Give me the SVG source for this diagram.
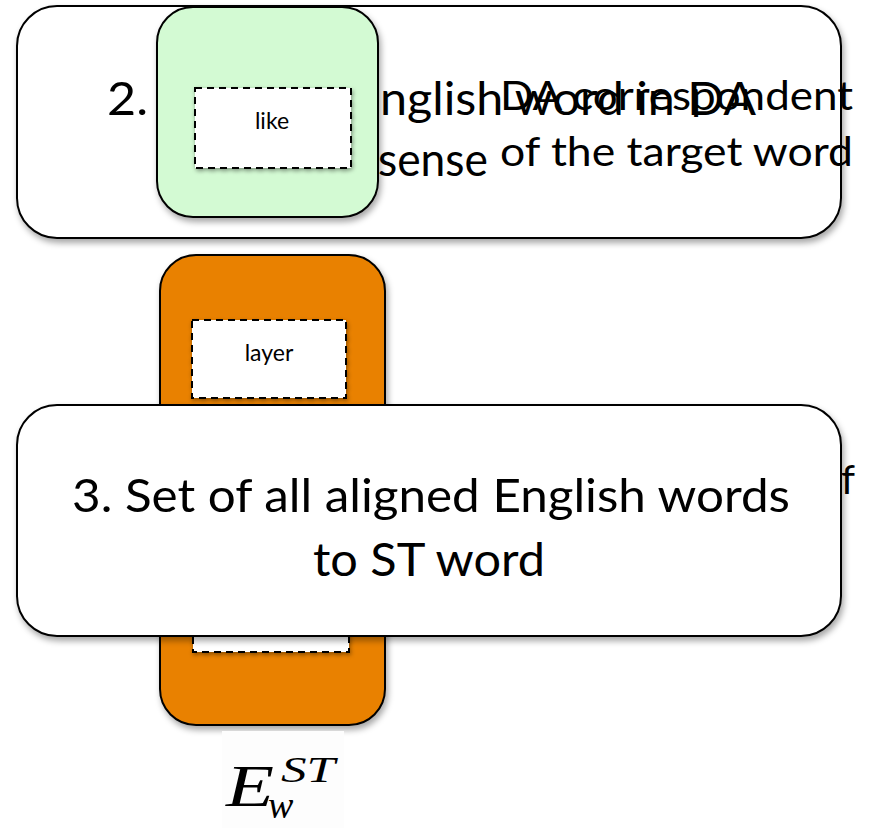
<svg xmlns="http://www.w3.org/2000/svg" width="871" height="828" viewBox="0 0 871 828">
  <defs>
    <filter id="shadow" x="-10%" y="-10%" width="125%" height="130%">
      <feDropShadow dx="2" dy="4" stdDeviation="3" flood-color="#000" flood-opacity="0.35"/>
    </filter>
    <filter id="softShadow" x="-10%" y="-10%" width="125%" height="130%">
      <feDropShadow dx="1" dy="2" stdDeviation="2" flood-color="#000" flood-opacity="0.4"/>
    </filter>
  </defs>
  <style>
    .panel { fill: #ffffff; stroke: #000; stroke-width: 2; }
    .green { fill: #d3fad3; stroke: #000; stroke-width: 2; }
    .orange { fill: #e98105; stroke: #000; stroke-width: 2; }
    .slot { fill: #ffffff; stroke: #000; stroke-width: 2; stroke-dasharray: 7 5; }
    .big { font-family: "Lato", "Liberation Sans", sans-serif; font-size: 47px; fill: #000; }
    .mid { font-family: "Lato", "Liberation Sans", sans-serif; font-size: 40px; fill: #000; }
    .small { font-family: "Lato", "Liberation Sans", sans-serif; font-size: 23px; fill: #000; text-anchor: middle; }
    .math { font-family: "Liberation Serif", serif; font-style: italic; fill: #000; }
  </style>

  <!-- Panel 2 -->
  <g id="panel2">
    <rect class="panel" x="17" y="6" width="824" height="232" rx="40" filter="url(#shadow)"/>
    <text class="big" x="107" y="115" textLength="41" lengthAdjust="spacingAndGlyphs">2.</text>
    <text class="big" x="380" y="115" textLength="376" lengthAdjust="spacingAndGlyphs">nglish word in DA</text>
    <text class="big" x="378" y="176" textLength="110" lengthAdjust="spacingAndGlyphs">sense</text>
    <text class="mid" x="500" y="110" textLength="353" lengthAdjust="spacingAndGlyphs">DA correspondent</text>
    <text class="mid" x="500" y="166" textLength="353" lengthAdjust="spacingAndGlyphs">of the target word</text>
  </g>

  <!-- Green word node -->
  <g id="node-like">
    <rect class="green" x="157" y="7" width="221" height="210" rx="36" filter="url(#shadow)"/>
    <rect class="slot" x="195" y="88" width="156" height="80" filter="url(#softShadow)"/>
    <text class="small" x="272" y="129">like</text>
  </g>

  <!-- Orange word column -->
  <g id="node-layer">
    <rect class="orange" x="160" y="255" width="225" height="470" rx="36" filter="url(#shadow)"/>
    <rect class="slot" x="192" y="320" width="154" height="78" filter="url(#softShadow)"/>
    <text class="small" x="269" y="361">layer</text>
    <rect class="slot" x="193" y="600" width="156" height="52" filter="url(#softShadow)"/>
  </g>

  <!-- Text peeking behind panel 3 -->
  <text class="mid" x="841" y="494">f</text>

  <!-- Panel 3 -->
  <g id="panel3">
    <rect class="panel" x="17" y="405" width="824" height="231" rx="40" filter="url(#shadow)"/>
    <text class="big" x="72" y="512" textLength="718" lengthAdjust="spacingAndGlyphs">3. Set of all aligned English words</text>
    <text class="big" x="313" y="576" textLength="232" lengthAdjust="spacingAndGlyphs">to ST word</text>
  </g>

  <!-- Label E_w^ST -->
  <g id="label-E">
    <rect x="222" y="731" width="122" height="97" fill="#fdfdfd"/>
    <text class="math" x="226" y="806" font-size="60" textLength="48" lengthAdjust="spacingAndGlyphs">E</text>
    <text class="math" x="281" y="782" font-size="36" textLength="54" lengthAdjust="spacingAndGlyphs">ST</text>
    <text class="math" x="268" y="818" font-size="38">w</text>
  </g>
</svg>
